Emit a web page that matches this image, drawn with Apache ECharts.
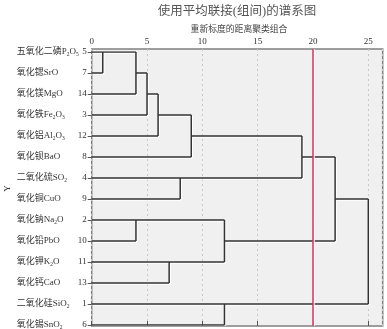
<!DOCTYPE html>
<html><head><meta charset="utf-8">
<script src="https://cdn.jsdelivr.net/npm/echarts@6/dist/echarts.min.js"></script>
<style>html,body{margin:0;padding:0;background:#fff}#c{width:387px;height:329px}</style>
</head><body><div id="c"></div>
<script>
// leaf case numbers, top to bottom
const leafIds = ['5','7','14','3','12','8','4','9','2','10','11','13','1','6'];
// leaf names ({s|..} marks a subscript)
const leafNames = [
  '五氧化二磷P{s|2}O{s|5}',
  '氧化锶SrO',
  '氧化镁MgO',
  '氧化铁Fe{s|2}O{s|3}',
  '氧化铝Al{s|2}O{s|3}',
  '氧化钡BaO',
  '二氧化硫SO{s|2}',
  '氧化铜CuO',
  '氧化钠Na{s|2}O',
  '氧化铅PbO',
  '氧化钾K{s|2}O',
  '氧化钙CaO',
  '二氧化硅SiO{s|2}',
  '氧化锡SnO{s|2}'
];
// merges: [childA, childB, rescaled distance]; children 0-13 are leaves, 14+ earlier merges in order
const merges = [
  [0, 1, 1],    // 14
  [14, 2, 4],   // 15
  [15, 3, 5],   // 16
  [16, 4, 6],   // 17
  [17, 5, 9],   // 18
  [6, 7, 8],    // 19
  [8, 9, 4],    // 20
  [10, 11, 7],  // 21
  [20, 21, 12], // 22
  [12, 13, 12], // 23
  [18, 19, 19], // 24
  [24, 22, 22], // 25
  [25, 23, 25]  // 26
];
const xTickStep = 5;
const xMax = 26.3;
const cutLine = 20;

const titleText = '使用平均联接(组间)的谱系图';
const subTitleText = '重新标度的距离聚类组合';
const yName = 'Y';

// build segments
const pos = leafIds.map((_, i) => ({x: 0, y: i}));
const segData = [];
merges.forEach(([a, b, d]) => {
  const A = pos[a], B = pos[b];
  segData.push([A.x, A.y], [d, A.y], '-');
  segData.push([B.x, B.y], [d, B.y], '-');
  segData.push([d, A.y], [d, B.y], '-');
  pos.push({x: d, y: Math.floor((A.y + B.y) / 2)});
});

const FONT = '"Liberation Serif","Noto Sans CJK SC",serif';
const chart = echarts.init(document.getElementById('c'), null, {renderer: 'canvas'});
chart.setOption({
  animation: false,
  backgroundColor: '#ffffff',
  graphic: [
    {type: 'text', x: 237, y: 12, style: {text: titleText, font: '12.5px ' + FONT, fill: '#555', textAlign: 'center', textVerticalAlign: 'middle'}},
    {type: 'text', x: 239, y: 29.5, style: {text: subTitleText, font: '8.8px ' + FONT, fill: '#444', textAlign: 'center', textVerticalAlign: 'middle'}}
  ],
  grid: [
    {left: 91.7, right: 4.3, top: 49, bottom: 3, show: true, backgroundColor: '#f0f0f0', borderColor: '#808080', borderWidth: 1.5, containLabel: false, outerBoundsMode: 'none'},
    {left: 91.7, right: 4.3, top: 52, bottom: 4, containLabel: false, outerBoundsMode: 'none'}
  ],
  xAxis: [
    {type: 'value', gridIndex: 0, position: 'top', min: 0, max: xMax, interval: xTickStep,
     axisLine: {show: false},
     axisTick: {show: true, length: 5, lineStyle: {color: '#555'}},
     axisLabel: {show: true, showMaxLabel: false, margin: 3, fontSize: 9, color: '#333', fontFamily: FONT,
       formatter: v => (v % xTickStep === 0 ? String(v) : '')},
     splitLine: {show: true, lineStyle: {color: '#c8c8c8', type: [2, 3], width: 1}}},
    {type: 'value', gridIndex: 1, min: 0, max: xMax, show: false}
  ],
  yAxis: [
    {type: 'value', gridIndex: 0, min: 0, max: 1, show: false},
    {type: 'category', gridIndex: 1, data: leafIds, inverse: true, boundaryGap: false,
     axisLine: {show: false},
     axisTick: {show: true, length: 4, interval: 0, lineStyle: {color: '#555'}},
     axisLabel: {interval: 0, margin: 5, fontSize: 9, color: '#333', fontFamily: FONT},
     name: yName, nameLocation: 'middle', nameGap: 80, nameRotate: 90,
     nameTextStyle: {fontSize: 9, color: '#333', fontFamily: FONT},
     splitLine: {show: false}},
    {type: 'category', gridIndex: 1, data: leafNames, inverse: true, boundaryGap: false, position: 'left',
     axisLine: {show: false}, axisTick: {show: false},
     axisLabel: {interval: 0, margin: 75, align: 'left', fontSize: 9, color: '#333', fontFamily: FONT,
       rich: {s: {fontSize: 5.5, fontFamily: FONT, color: '#333', padding: [5, 0, 0, 0]}}},
     splitLine: {show: false}},
    {type: 'value', gridIndex: 1, min: 0, max: leafIds.length - 1, inverse: true, show: false}
  ],
  series: [
    {type: 'line', xAxisIndex: 0, yAxisIndex: 0, data: [], symbol: 'none', silent: true,
     markLine: {silent: true, symbol: 'none', label: {show: false},
       lineStyle: {color: '#d8335a', width: 1.5, type: 'solid', shadowColor: '#ffffff', shadowOffsetX: 1, shadowBlur: 0},
       data: [{xAxis: cutLine}]}},
    {type: 'line', xAxisIndex: 1, yAxisIndex: 3, data: segData, symbol: 'none', connectNulls: false, silent: true,
     lineStyle: {color: '#333', width: 1.5, shadowColor: '#ffffff', shadowOffsetX: 1, shadowOffsetY: 1, shadowBlur: 0}}
  ]
});
</script></body></html>
